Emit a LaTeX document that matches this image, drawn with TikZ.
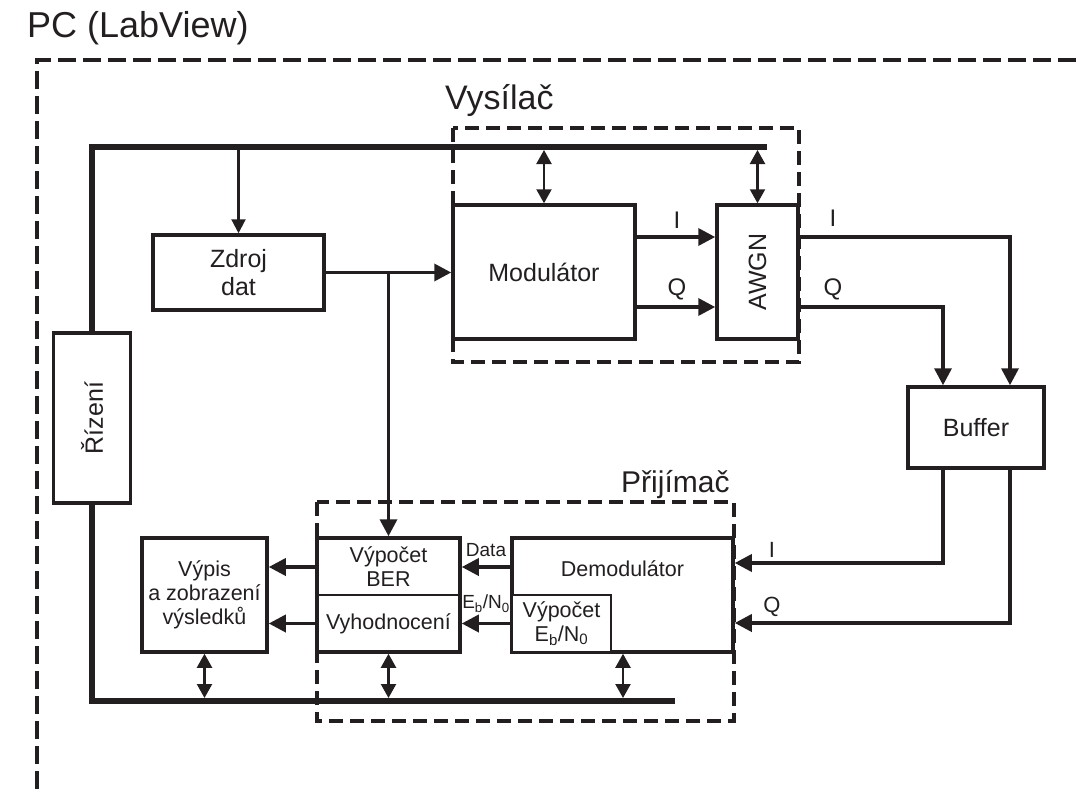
\documentclass[tikz,border=0pt]{standalone}
\usepackage{fontspec}
\setmainfont{Liberation Sans}
\usetikzlibrary{arrows.meta}

\definecolor{ink}{RGB}{35,31,32}

\tikzset{
  box/.style={draw, fill=white, line width=3.5pt, inner sep=0pt, align=center,
    font=\fontsize{25}{28}\selectfont},
  rbox/.style={box, font=\fontsize{21.5}{24}\selectfont},
  txt/.style={inner sep=0pt, align=center, font=\fontsize{21.5}{24}\selectfont},
  sigtxt/.style={inner sep=0pt, font=\fontsize{24}{26}\selectfont},
  smalltxt/.style={inner sep=0pt, font=\fontsize{19}{21}\selectfont},
  title/.style={inner sep=0pt, font=\fontsize{34}{38}\selectfont},
  pcframe/.style={line width=3.5pt, dash pattern=on 18pt off 7pt},
  grp/.style={line width=3.5pt, dash pattern=on 14pt off 7pt},
  bus/.style={line width=6.5pt},
  sig/.style={line width=3.5pt, -{Triangle[length=17pt,width=17pt]}},
  feed/.style={line width=2.2pt, -{Triangle[length=14pt,width=14pt]}},
  dblarr/.style={line width=2.2pt,
    {Triangle[length=14pt,width=15pt]}-{Triangle[length=14pt,width=15pt]}}
}

\begin{document}
\begin{tikzpicture}[x=1pt, y=-1pt, color=ink]
\useasboundingbox (0,0) rectangle (1076,789);

% PC frame
\draw[pcframe] (1076,60) -- (37,60) -- (37,789);
\node[title, anchor=base west, font=\fontsize{36}{40}\selectfont] (pc) at (27,38) {PC (LabView)};

% transmitter / receiver groups
\draw[grp] (453,128) rectangle (799,362);
\node[title, anchor=base west] (tx) at (445,110) {Vysílač};
\draw[grp] (317,502) rectangle (734,721);
\node[title, anchor=base west, font=\fontsize{30}{34}\selectfont] (rx) at (621,492) {Přijímač};

% control bus
\coordinate (busTL) at (92,147);
\coordinate (busTR) at (767,147);
\coordinate (busBL) at (92,701);
\coordinate (busBR) at (675,701);

% blocks
\node[box, minimum width=77, minimum height=170] (rizeni) at (92,418) {};
\node[rotate=90, inner sep=0pt, font=\fontsize{25}{28}\selectfont] (rizenitxt) at (rizeni) {Řízení};
\node[box, minimum width=171, minimum height=75] (zdroj) at (238.5,272.5) {Zdroj\\dat};
\node[box, minimum width=182, minimum height=134] (modulator) at (544,272) {Modulátor};
\node[box, minimum width=81, minimum height=134] (awgn) at (757.5,272) {};
\node[rotate=90, inner sep=0pt, font=\fontsize{25}{28}\selectfont] (awgntxt) at (awgn) {AWGN};
\node[box, minimum width=136, minimum height=81] (buffer) at (976,427.5) {Buffer};

\node[rbox, minimum width=221, minimum height=114] (demod) at (622.5,595) {};
\node[txt] (demodtxt) at (622.5,569) {Demodulátor};
\node[rbox, line width=2.2pt, minimum width=99, minimum height=57] (ebno) at (561.5,623.5)
  {Výpočet\\E\textsubscript{b}/N\textsubscript{0}};
\node[rbox, minimum width=143, minimum height=114] (eval) at (388.5,595) {};
\draw[line width=2.2pt] (eval.west) -- (eval.east);
\node[txt] (ber) at (388.5,567) {Výpočet\\BER};
\node[txt] (vyhod) at (388.5,623.5) {Vyhodnocení};
\node[rbox, minimum width=125, minimum height=114] (vypis) at (204.5,595)
  {Výpis\\a zobrazení\\výsledků};

\draw[bus] (busTR) -- (busTL) -- (busTL |- rizeni.north);
\draw[bus] (rizeni.south) -- (busBL) -- (busBR);

% bus links
\draw[feed] (zdroj.north |- busTL) -- (zdroj.north);
\draw[dblarr, shorten <=3pt] (modulator.north |- busTL) -- (modulator.north);
\draw[dblarr, shorten <=3pt] (awgn.north |- busTL) -- (awgn.north);
\draw[dblarr, shorten >=3pt] (vypis.south) -- (vypis.south |- busBL);
\draw[dblarr, shorten >=3pt] (eval.south) -- (eval.south |- busBL);
\draw[dblarr, shorten >=3pt] (demod.south -| 623,0) -- (623,701);

% data path
\coordinate (split) at (388.5,272.5);
\draw[sig] (zdroj.east) -- (zdroj.east -| modulator.west);
\draw[sig] (split) -- (eval.north);

\coordinate (modi) at (0,237);
\coordinate (modq) at (0,307);
\draw[sig] (modulator.east |- modi) -- (awgn.west |- modi);
\draw[sig] (modulator.east |- modq) -- (awgn.west |- modq);
\node[sigtxt] (modilbl) at (677,220) {I};
\node[sigtxt] (modqlbl) at (677,289) {Q};

\coordinate (iout) at (1010,237);
\coordinate (qout) at (943,307);
\draw[sig] (awgn.east |- iout) -- (iout) -- (iout |- buffer.north);
\draw[sig] (awgn.east |- qout) -- (qout) -- (qout |- buffer.north);
\node[sigtxt] (awilbl) at (833,218) {I};
\node[sigtxt] (awqlbl) at (833,289) {Q};

\coordinate (iin) at (943,563);
\coordinate (qin) at (1010,623);
\draw[sig] (iin |- buffer.south) -- (iin) -- (iin -| demod.east);
\draw[sig] (qin |- buffer.south) -- (qin) -- (qin -| demod.east);
\node[sigtxt, font=\fontsize{22}{24}\selectfont] (dmilbl) at (772,550) {I};
\node[sigtxt, font=\fontsize{22}{24}\selectfont] (dmqlbl) at (772,607) {Q};

\draw[sig] (demod.west |- ber) -- (eval.east |- ber);
\draw[sig] (demod.west |- vyhod) -- (eval.east |- vyhod);
\node[smalltxt] (datalbl) at (486,550) {Data};
\node[smalltxt] (ebnolbl) at (486,604) {E\textsubscript{b}/N\textsubscript{0}};

\draw[sig] (eval.west |- ber) -- (vypis.east |- ber);
\draw[sig] (eval.west |- vyhod) -- (vypis.east |- vyhod);
\end{tikzpicture}
\end{document}
